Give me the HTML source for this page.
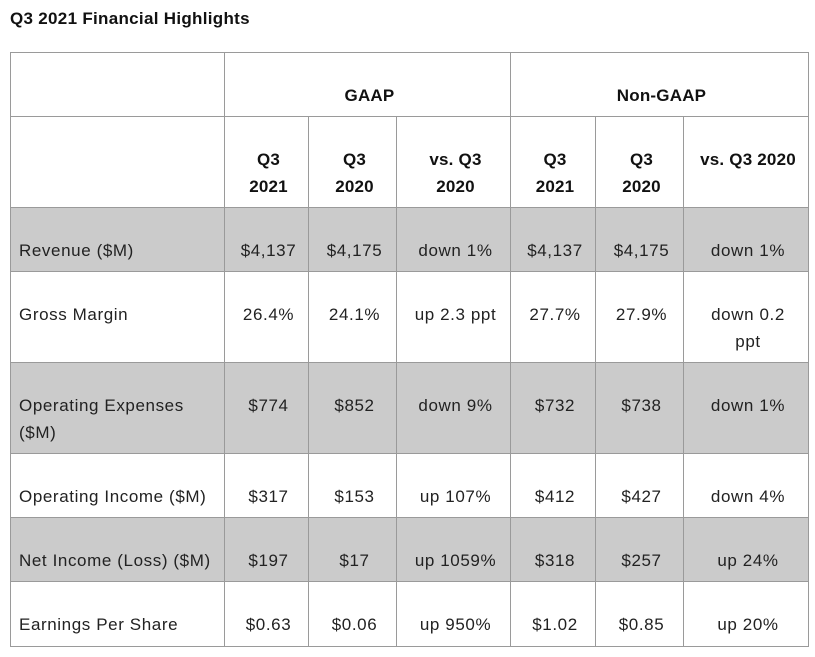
<!DOCTYPE html>
<html><head><meta charset="utf-8"><style>
body{margin:0;background:#fff;width:815px;height:657px;overflow:hidden;font-family:"Liberation Sans",sans-serif;color:#222;}
.t{position:absolute;left:10px;top:9px;font-weight:bold;font-size:17px;letter-spacing:0.3px;color:#111}
.c{position:absolute;box-sizing:border-box;border:1px solid #9a9a9a;font-size:17px;letter-spacing:0.6px;line-height:27px;padding:29px 4px 0 8px;text-align:center;white-space:nowrap}
.l{text-align:left}
.b{font-weight:bold;color:#111;letter-spacing:0.2px}
.g{background:#cbcbcb}
</style></head><body>
<div class="t">Q3 2021 Financial Highlights</div>
<div id="tb"></div>
<script>
const xs=[10,224,308,396,510,595,683,808];
const ys=[52,116,207,271,362,453,517,581,646];
let h='';
function cell(x0,x1,y0,y1,txt,cls){h+=`<div class="c ${cls}" style="left:${x0}px;top:${y0}px;width:${x1-x0+1}px;height:${y1-y0+1}px">${txt}</div>`;}
cell(xs[0],xs[1],ys[0],ys[1],'','');
cell(xs[1],xs[4],ys[0],ys[1],'GAAP','b');
cell(xs[4],xs[7],ys[0],ys[1],'Non-GAAP','b');
cell(xs[0],xs[1],ys[1],ys[2],'','');
const hd=['Q3<br>2021','Q3<br>2020','vs. Q3<br>2020','Q3<br>2021','Q3<br>2020','vs. Q3 2020'];
hd.forEach((t,i)=>cell(xs[i+1],xs[i+2],ys[1],ys[2],t,'b'));
const rows=[
['Revenue ($M)','$4,137','$4,175','down 1%','$4,137','$4,175','down 1%'],
['Gross Margin','26.4%','24.1%','up 2.3 ppt','27.7%','27.9%','down 0.2<br>ppt'],
['Operating Expenses<br>($M)','$774','$852','down 9%','$732','$738','down 1%'],
['Operating Income ($M)','$317','$153','up 107%','$412','$427','down 4%'],
['Net Income (Loss) ($M)','$197','$17','up 1059%','$318','$257','up 24%'],
['Earnings Per Share','$0.63','$0.06','up 950%','$1.02','$0.85','up 20%']];
rows.forEach((r,ri)=>{const g=ri%2==0?' g':'';r.forEach((t,i)=>cell(xs[i],xs[i+1],ys[ri+2],ys[ri+3],t,(i==0?'l':'')+g));});
document.getElementById('tb').innerHTML=h;
</script>
</body></html>
